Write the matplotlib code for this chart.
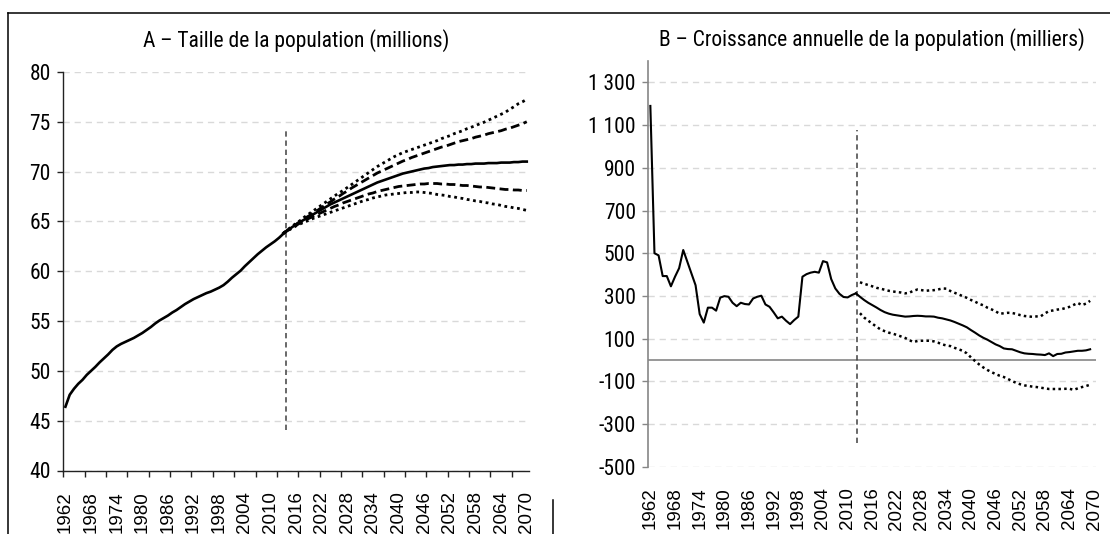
import matplotlib
matplotlib.use("Agg")
import matplotlib.pyplot as plt
from matplotlib.lines import Line2D
from matplotlib.ticker import FixedLocator, FuncFormatter

# ---------------- DATA ----------------
TITLE_A = "A – Taille de la population (millions)"
TITLE_B = "B – Croissance annuelle de la population (milliers)"

LABEL_YEARS = list(range(1962, 2071, 6))

# Panel A : population (millions)
years_a_hist = list(range(1962, 2014))
pop_hist = [46.4, 47.6, 48.2, 48.7, 49.1, 49.6, 50.0, 50.4, 50.85, 51.25,
            51.65, 52.1, 52.45, 52.7, 52.9, 53.1, 53.3, 53.55, 53.8, 54.1,
            54.4, 54.75, 55.05, 55.3, 55.55, 55.85, 56.1, 56.4, 56.7, 56.95,
            57.2, 57.4, 57.6, 57.8, 57.95, 58.15, 58.35, 58.6, 58.95, 59.35,
            59.7, 60.05, 60.5, 60.9, 61.3, 61.7, 62.05, 62.4, 62.7, 63.0,
            63.35, 63.75]
years_a_proj = list(range(2013, 2071))
pop_central = [63.8, 64.1, 64.4, 64.7, 64.95, 65.2, 65.45, 65.7, 65.95, 66.2,
               66.45, 66.7, 66.9, 67.1, 67.3, 67.5, 67.7, 67.9, 68.1, 68.3,
               68.5, 68.7, 68.9, 69.05, 69.2, 69.35, 69.5, 69.65, 69.8, 69.9,
               70.0, 70.1, 70.2, 70.3, 70.35, 70.45, 70.5, 70.55, 70.6, 70.65,
               70.65, 70.7, 70.7, 70.75, 70.75, 70.8, 70.8, 70.8, 70.85, 70.85,
               70.85, 70.9, 70.9, 70.9, 70.95, 70.95, 71.0, 71.0]
pop_high = [63.8, 64.1, 64.4, 64.7, 65.0, 65.3, 65.55, 65.85, 66.1, 66.4,
            66.7, 66.95, 67.25, 67.5, 67.8, 68.05, 68.35, 68.6, 68.85, 69.1,
            69.35, 69.6, 69.85, 70.05, 70.25, 70.45, 70.65, 70.85, 71.05, 71.2,
            71.4, 71.55, 71.7, 71.85, 72.0, 72.15, 72.3, 72.45, 72.55, 72.7,
            72.85, 73.0, 73.1, 73.2, 73.3, 73.45, 73.55, 73.65, 73.8, 73.9,
            74.0, 74.1, 74.25, 74.35, 74.5, 74.65, 74.8, 75.0]
pop_very_high = [63.8, 64.15, 64.5, 64.8, 65.1, 65.45, 65.75, 66.05, 66.35, 66.65,
                 66.95, 67.25, 67.55, 67.85, 68.1, 68.4, 68.7, 69.0, 69.3, 69.6,
                 69.9, 70.2, 70.5, 70.75, 71.0, 71.25, 71.5, 71.7, 71.9, 72.05,
                 72.2, 72.35, 72.5, 72.65, 72.8, 72.95, 73.1, 73.3, 73.45, 73.6,
                 73.8, 73.95, 74.1, 74.3, 74.45, 74.6, 74.8, 74.95, 75.15, 75.35,
                 75.55, 75.75, 75.95, 76.25, 76.5, 76.8, 77.0, 77.25]
pop_low = [63.8, 64.1, 64.35, 64.6, 64.85, 65.1, 65.3, 65.5, 65.7, 65.9,
           66.1, 66.3, 66.5, 66.65, 66.85, 67.0, 67.15, 67.3, 67.45, 67.6,
           67.75, 67.85, 68.0, 68.1, 68.2, 68.3, 68.4, 68.5, 68.55, 68.6,
           68.65, 68.7, 68.75, 68.75, 68.8, 68.8, 68.8, 68.75, 68.75, 68.7,
           68.7, 68.65, 68.6, 68.6, 68.55, 68.5, 68.45, 68.45, 68.4, 68.35,
           68.3, 68.25, 68.2, 68.2, 68.15, 68.15, 68.1, 68.1]
pop_very_low = [63.8, 64.05, 64.3, 64.55, 64.75, 64.95, 65.1, 65.3, 65.45, 65.6,
                65.75, 65.9, 66.05, 66.2, 66.35, 66.5, 66.65, 66.8, 66.95, 67.1,
                67.2, 67.35, 67.45, 67.55, 67.65, 67.7, 67.75, 67.8, 67.85, 67.9,
                67.9, 67.95, 67.95, 67.9, 67.85, 67.8, 67.7, 67.65, 67.6, 67.5,
                67.45, 67.35, 67.3, 67.2, 67.15, 67.05, 67.0, 66.9, 66.85, 66.75,
                66.7, 66.6, 66.5, 66.45, 66.35, 66.3, 66.2, 66.1]
proj_start_a = 2013.6

# Panel B : annual growth (thousands)
years_b_hist = list(range(1962, 2013))
growth_hist = [1190, 500, 490, 393, 393, 345, 390, 430, 515, 460,
               405, 350, 215, 175, 245, 245, 231, 292, 299, 296,
               268, 252, 268, 262, 260, 288, 296, 301, 260, 249,
               223, 195, 203, 184, 168, 187, 203, 390, 402, 409,
               413, 409, 463, 457, 379, 335, 310, 295, 293, 304,
               312]
years_b_central = list(range(2012, 2070))
growth_central = [312, 296, 281, 268, 257, 246, 234, 224, 217, 212,
                  209, 206, 203, 204, 206, 207, 206, 204, 204, 203,
                  198, 195, 190, 185, 178, 170, 162, 153, 140, 128,
                  115, 104, 95, 84, 73, 65, 54, 51, 50, 43,
                  36, 31, 29, 28, 26, 25, 23, 31, 18, 28,
                  29, 35, 37, 40, 43, 43, 45, 50]
years_b_band = list(range(2013, 2070))
growth_high = [364, 357, 351, 345, 338, 334, 329, 324, 321, 318,
               316, 312, 315, 324, 330, 327, 324, 326, 327, 330,
               335, 334, 323, 315, 307, 299, 291, 281, 273, 263,
               256, 245, 237, 228, 216, 219, 221, 220, 216, 210,
               206, 204, 202, 204, 205, 218, 229, 232, 236, 238,
               243, 249, 258, 267, 257, 264, 277]
growth_low = [219, 199, 184, 170, 156, 143, 135, 128, 123, 117,
              110, 103, 93, 84, 89, 90, 90, 90, 87, 81,
              73, 68, 65, 57, 50, 43, 31, 12, -5, -21,
              -35, -47, -57, -66, -74, -80, -89, -99, -107, -114,
              -119, -122, -125, -127, -130, -133, -136, -136, -136, -136,
              -135, -135, -140, -133, -127, -122, -116]
proj_start_b = 2012.3

YTICKS_A = [40, 45, 50, 55, 60, 65, 70, 75, 80]
YTICKS_B = [-500, -300, -100, 100, 300, 500, 700, 900, 1100, 1300]

# ---------------- STYLE ----------------
NARROW = ['Roboto Condensed', 'Archivo Narrow', 'Liberation Sans', 'DejaVu Sans']
REG = ['Liberation Sans', 'DejaVu Sans']
GRID = '#d9d9d9'
AXGREY = '#868686'

fig = plt.figure(figsize=(11.1, 5.34), dpi=100)
W, H = 1110.0, 534.0


def px_axes(l, r, t, b):
    return fig.add_axes([l / W, (H - b) / H, (r - l) / W, (b - t) / H])


dotted = (0, (1, 1.3))
dashed = (0, (3.2, 1.6))

# ---------- Panel A ----------
axA = px_axes(63.3, 528.9, 71.9, 470.5)
axA.set_xlim(1961.5, 2070.5)
axA.set_ylim(40, 80)
for sp in ('top', 'right'):
    axA.spines[sp].set_visible(False)
for sp in ('left', 'bottom'):
    axA.spines[sp].set_color('#222222')
    axA.spines[sp].set_linewidth(1.0)
axA.yaxis.set_major_locator(FixedLocator(YTICKS_A))
axA.grid(axis='y', color=GRID, linestyle=(0, (4.5, 3.5)), linewidth=1.0, zorder=0)
axA.set_axisbelow(True)
axA.tick_params(axis='y', direction='out', length=4, width=1, color='#222222',
                pad=5, labelsize=15.5)
axA.xaxis.set_major_locator(FixedLocator(LABEL_YEARS))
axA.xaxis.set_minor_locator(FixedLocator([1961.5 + 5 * k for k in range(22)]))
axA.tick_params(axis='x', which='major', length=0, pad=15, labelsize=13.5,
                labelrotation=90)
axA.tick_params(axis='x', which='minor', direction='out', length=4, width=1,
                color='#222222')
for lab in axA.get_yticklabels():
    lab.set_family(NARROW)
for lab in axA.get_xticklabels():
    lab.set_family(REG)

axA.plot(years_a_proj, pop_very_high, color='black', lw=2.0, linestyle=dotted, zorder=3)
axA.plot(years_a_proj, pop_very_low, color='black', lw=2.0, linestyle=dotted, zorder=3)
axA.plot(years_a_proj, pop_high, color='black', lw=2.0, linestyle=dashed, zorder=3)
axA.plot(years_a_proj, pop_low, color='black', lw=2.0, linestyle=dashed, zorder=3)
axA.plot(years_a_proj, pop_central, color='black', lw=1.9, zorder=4,
         solid_joinstyle='round')
axA.plot(years_a_hist, pop_hist, color='black', lw=1.9, zorder=4,
         solid_joinstyle='round')
axA.plot([proj_start_a, proj_start_a], [44.1, 74.2], color='#404040', lw=1.1,
         linestyle=(0, (3.5, 2.5)), zorder=2)

# ---------- Panel B ----------
axB = px_axes(648.3, 1096.3, 61.1, 466.7)
axB.set_xlim(1961.5, 2070.5)
axB.set_ylim(-500, 1400)
for sp in ('top', 'right', 'bottom'):
    axB.spines[sp].set_visible(False)
axB.spines['left'].set_color(AXGREY)
axB.spines['left'].set_linewidth(1.2)
axB.yaxis.set_major_locator(FixedLocator(YTICKS_B))
axB.yaxis.set_major_formatter(FuncFormatter(lambda v, p: f"{int(v):,}".replace(",", " ")))
axB.grid(axis='y', color=GRID, linestyle=(0, (4.5, 3.5)), linewidth=1.0, zorder=0)
axB.set_axisbelow(True)
axB.tick_params(axis='y', direction='out', length=4, width=1, color=AXGREY,
                pad=5, labelsize=15.5)
axB.xaxis.set_major_locator(FixedLocator(LABEL_YEARS))
axB.tick_params(axis='x', which='major', length=0, pad=15, labelsize=13.5,
                labelrotation=90)
for lab in axB.get_yticklabels():
    lab.set_family(NARROW)
for lab in axB.get_xticklabels():
    lab.set_family(REG)

axB.axhline(0, color=AXGREY, lw=1.2, zorder=2)
axB.plot(years_b_band, growth_high, color='black', lw=1.8, linestyle=dotted, zorder=3)
axB.plot(years_b_band, growth_low, color='black', lw=1.8, linestyle=dotted, zorder=3)
axB.plot(years_b_central, growth_central, color='black', lw=1.5, zorder=4)
axB.plot(years_b_hist, growth_hist, color='black', lw=1.5, zorder=4)
axB.plot([proj_start_b, proj_start_b], [-391, 1077], color='#404040', lw=1.1,
         linestyle=(0, (3.5, 2.5)), zorder=2)

# ---------- Titles ----------
fig.text(296 / W, 1 - 41 / H, TITLE_A, ha='center', va='center', fontsize=15.5,
         family=NARROW)
fig.text(872 / W, 1 - 40 / H, TITLE_B, ha='center', va='center', fontsize=15.5,
         family=NARROW)

# ---------- Frame lines ----------
ytop = 1 - 12.5 / H
fig.add_artist(Line2D([8 / W, 1.0], [ytop, ytop], color='black', lw=1.1,
                      transform=fig.transFigure))
fig.add_artist(Line2D([8 / W, 8 / W], [0, ytop], color='black', lw=1.1,
                      transform=fig.transFigure))
fig.add_artist(Line2D([553 / W, 553 / W], [0, 1 - 500 / H], color='black', lw=1.1,
                      transform=fig.transFigure))

fig.savefig("out.png", dpi=100)
